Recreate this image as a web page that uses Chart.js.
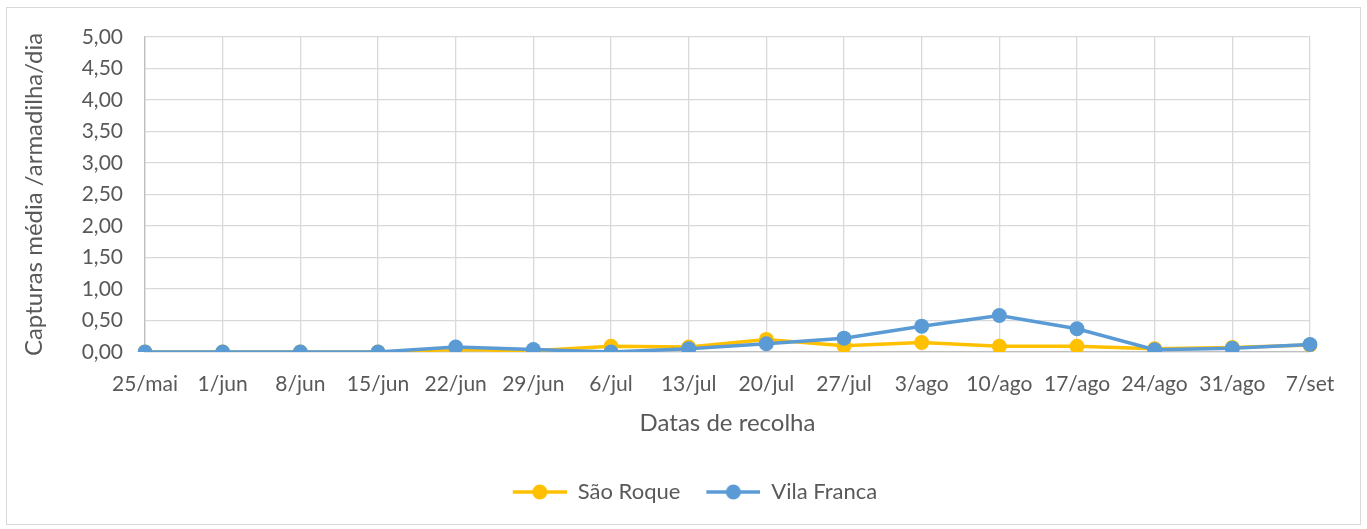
<!DOCTYPE html>
<html>
<head>
<meta charset="utf-8">
<script src="https://cdn.jsdelivr.net/npm/chart.js@4/dist/chart.umd.min.js"></script>
<style>
  html, body { margin: 0; padding: 0; background: #fff; }
  #wrap { width: 1367px; height: 529px; position: relative; }
</style>
</head>
<body>
<div id="wrap"><canvas id="grafico"></canvas></div>
<script>
// dati
const datas = ['25/mai', '1/jun', '8/jun', '15/jun', '22/jun', '29/jun', '6/jul', '13/jul',
               '20/jul', '27/jul', '3/ago', '10/ago', '17/ago', '24/ago', '31/ago', '7/set'];
const saoRoque = [0, 0, 0, 0, 0.04, 0.02, 0.09, 0.08, 0.2, 0.1, 0.15, 0.09, 0.09, 0.05, 0.07, 0.11];
const vilaFranca = [0, 0, 0, 0, 0.08, 0.04, 0, 0.05, 0.13, 0.22, 0.41, 0.58, 0.37, 0.035, 0.06, 0.12];
const nomiSerie = ['São Roque', 'Vila Franca'];
const colori = ['#FFC000', '#5B9BD5'];

const testo = '#595959';
const fontBase = 'Lato, "Open Sans", sans-serif';

// icona della legenda: linea con cerchio (margine a sinistra per lo spazio tra le voci)
function iconaLegenda(colore) {
    const c = document.createElement('canvas');
    c.width = 70; c.height = 16;
    const ctx = c.getContext('2d');
    ctx.strokeStyle = colore;
    ctx.lineWidth = 3.5;
    ctx.beginPath();
    ctx.moveTo(16, 8); ctx.lineTo(70, 8);
    ctx.stroke();
    ctx.fillStyle = colore;
    ctx.beginPath();
    ctx.arc(43, 8, 7.5, 0, Math.PI * 2);
    ctx.fill();
    return c;
}

// bordo esterno del grafico + spostamento legenda
const bordo = {
    id: 'bordo',
    afterLayout(chart) {
        chart.legend.left += 22;
        chart.legend.right += 22;
    },
    afterDraw(chart) {
        const ctx = chart.ctx;
        ctx.save();
        ctx.strokeStyle = '#d9d9d9';
        ctx.lineWidth = 1;
        ctx.strokeRect(6.5, 7.5, 1354, 517);
        ctx.restore();
    }
};

new Chart(document.getElementById('grafico'), {
    type: 'line',
    data: {
        labels: datas,
        datasets: [
            {
                label: nomiSerie[0],
                data: saoRoque,
                borderColor: colori[0],
                backgroundColor: colori[0],
                borderWidth: 3.5,
                pointRadius: 7.5,
                pointHoverRadius: 7.5,
                pointBorderWidth: 0,
                tension: 0,
                order: 2
            },
            {
                label: nomiSerie[1],
                data: vilaFranca,
                borderColor: colori[1],
                backgroundColor: colori[1],
                borderWidth: 3.5,
                pointRadius: 7.5,
                pointHoverRadius: 7.5,
                pointBorderWidth: 0,
                tension: 0,
                order: 1
            }
        ]
    },
    options: {
        responsive: true,
        maintainAspectRatio: false,
        animation: false,
        layout: { padding: { top: 37, right: 57, left: 20, bottom: 16 } },
        scales: {
            x: {
                offset: false,
                grid: { color: '#d9d9d9', lineWidth: 1.3, drawTicks: false },
                border: { color: '#bfbfbf', width: 1.3 },
                ticks: { color: testo, font: { family: fontBase, size: 21 }, padding: 20, maxRotation: 0, autoSkip: false },
                title: { display: true, text: 'Datas de recolha', color: testo, font: { family: fontBase, size: 24 }, padding: { top: 0, bottom: 33 } },
                afterFit(s) { s.height = 119; }
            },
            y: {
                min: 0, max: 5,
                grid: { color: '#d9d9d9', lineWidth: 1.3, drawTicks: false },
                border: { color: '#bfbfbf', width: 1.3 },
                ticks: {
                    stepSize: 0.5, color: testo, padding: 22,
                    font: { family: fontBase, size: 21 },
                    callback: v => v.toFixed(2).replace('.', ',')
                },
                title: { display: true, text: 'Capturas média /armadilha/dia', color: testo, font: { family: fontBase, size: 24 }, padding: 0 },
                afterFit(s) { s.width = 125; }
            }
        },
        plugins: {
            tooltip: { enabled: false },
            legend: {
                position: 'bottom',
                onClick: null,
                labels: {
                    usePointStyle: true,
                    pointStyleWidth: 70,
                    color: testo,
                    font: { family: fontBase, size: 22 },
                    padding: 10,
                    generateLabels(chart) {
                        return chart.data.datasets.map((d, i) => ({
                            text: d.label,
                            fillStyle: d.borderColor,
                            strokeStyle: d.borderColor,
                            fontColor: testo,
                            lineWidth: 0,
                            pointStyle: iconaLegenda(d.borderColor),
                            datasetIndex: i,
                            hidden: false
                        }));
                    }
                }
            }
        }
    },
    plugins: [bordo]
});
</script>
</body>
</html>
